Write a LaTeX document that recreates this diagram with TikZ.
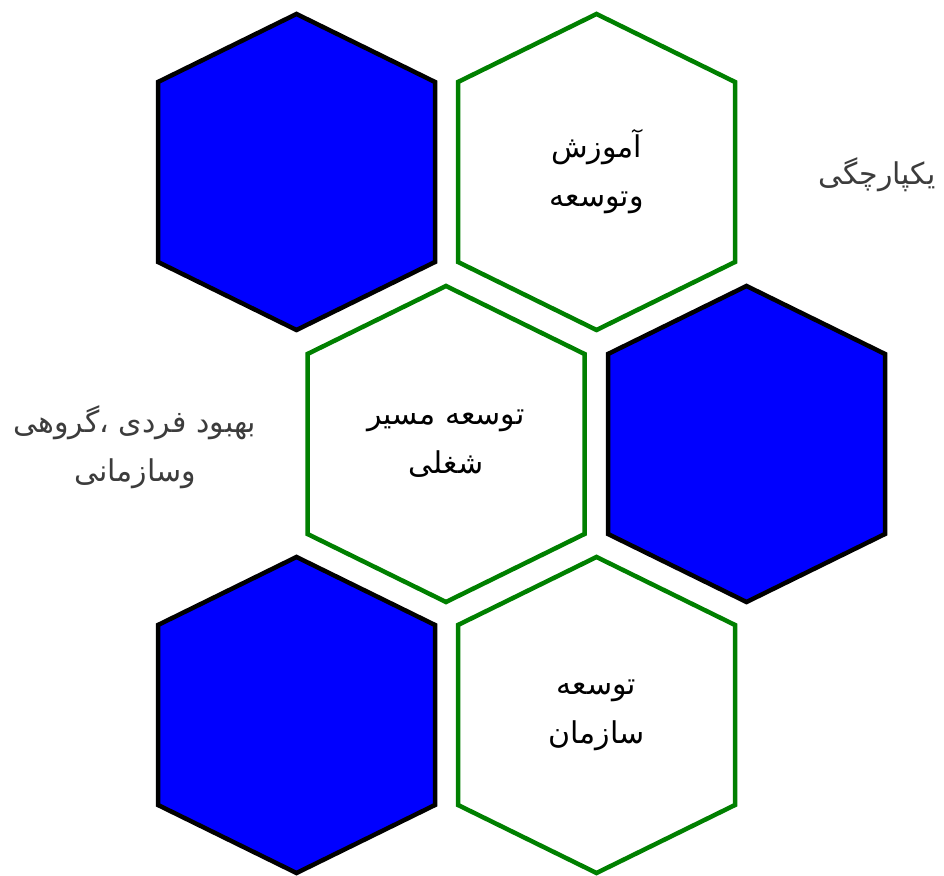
\documentclass[tikz,border=0pt]{standalone}
\usepackage{fontspec}
\usepackage{tikz}
\usetikzlibrary{positioning,calc}
\newfontfamily\arabicfont[Script=Arabic]{DejaVu Sans}
\TeXXeTstate=1
\newcommand{\fa}[1]{\beginR #1\endR}
\definecolor{hexblue}{RGB}{0,0,255}
\definecolor{hexgreen}{RGB}{0,128,0}
\definecolor{sidegray}{RGB}{60,60,60}
\tikzset{
  hexfull/.style={draw=black,fill=hexblue,line width=4.5pt},
  hexempty/.style={draw=hexgreen,fill=white,line width=4.5pt},
  hextxt/.style={font=\arabicfont\fontsize{30}{49}\selectfont,align=center,text=black,inner sep=0pt},
  sidetxt/.style={hextxt,text=sidegray},
}
% pointy-top hexagon around a centre
\newcommand{\hexat}[2]{%
  \path[#1,shift={#2}] (0,158) -- (138.5,90) -- (138.5,-90) -- (0,-158)
    -- (-138.5,-90) -- (-138.5,90) -- cycle;}

\begin{document}
\begin{tikzpicture}[x=1pt,y=1pt]
\useasboundingbox (0,0) rectangle (944,875);
\coordinate (hexa) at (296.5,703);
\coordinate (train) at (596.5,703);
\coordinate (career) at (446,431);
\coordinate (hexd) at (746.5,431);
\coordinate (hexe) at (296.5,160);
\coordinate (orgdev) at (596.5,160);

\hexat{hexfull}{(hexa)}
\hexat{hexempty}{(train)}
\hexat{hexempty}{(career)}
\hexat{hexfull}{(hexd)}
\hexat{hexfull}{(hexe)}
\hexat{hexempty}{(orgdev)}

\node[hextxt] (traintxt) at (train) {\fa{آموزش}\\\fa{وتوسعه}};
\node[hextxt] (careertxt) at (career) {\fa{توسعه مسیر}\\\fa{شغلی}};
\node[hextxt] (orgtxt) at (orgdev) {\fa{توسعه}\\\fa{سازمان}};
\node[sidetxt] (unity) at (877,700) {\fa{یکپارچگی}};
\node[sidetxt] (improve) at (135,428) {\fa{بهبود فردی ،گروهی}\\\fa{وسازمانی}};
\end{tikzpicture}
\end{document}
